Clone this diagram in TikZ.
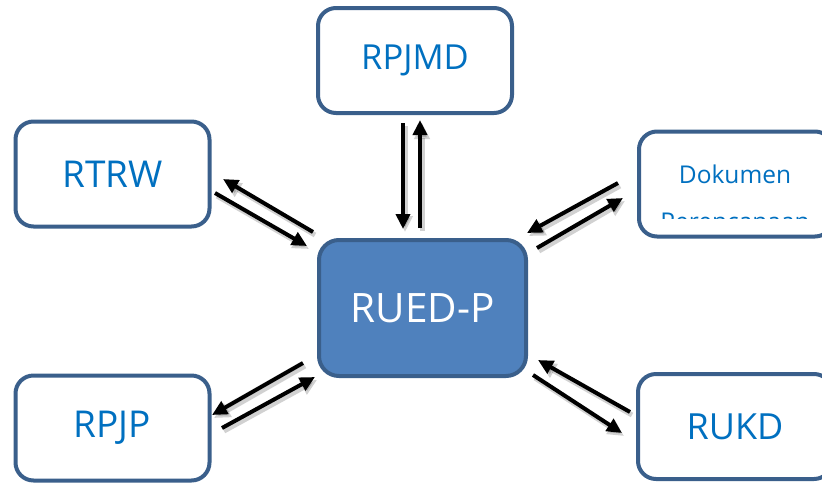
\documentclass[tikz,border=0pt]{standalone}
\usepackage{fontspec}
\setmainfont{Open Sans}
\usetikzlibrary{arrows.meta}
\definecolor{bordc}{HTML}{3A5F8B}
\definecolor{fillc}{HTML}{4F81BD}
\definecolor{txtc}{HTML}{0070C0}
\tikzset{
  sbox/.style={draw=bordc, line width=4pt, rounded corners=18pt, fill=white,
    minimum width=194pt, minimum height=105pt, inner sep=0pt, text=txtc},
  cbox/.style={draw=bordc, line width=4pt, rounded corners=20pt, fill=fillc,
    minimum width=207pt, minimum height=136pt, inner sep=0pt, text=white},
  arr/.style={line width=4pt, -{Triangle[length=15pt,width=14pt]}},
  shd/.style={line width=5pt, draw=black, opacity=0.18, -{Triangle[length=16pt,width=15pt]}},
}
\newcommand{\twoarrow}[2]{%
  \draw[shd,transform canvas={shift={(2pt,-3pt)}}] (#1) -- (#2);
  \draw[arr] (#1) -- (#2);}
\begin{document}
\begin{tikzpicture}[x=1pt,y=-1pt]
\useasboundingbox (0,0) rectangle (822,483);
\clip (0,0) rectangle (822,483);
\node[sbox, font=\fontsize{34.5}{38}\selectfont] (rpjmd) at (415,60.5) {RPJMD};
\node[sbox, font=\fontsize{37}{40}\selectfont] (rtrw) at (112.5,174) {RTRW};
\node[sbox, font=\fontsize{37}{40}\selectfont] (rpjp) at (112.5,428) {RPJP};
\node[sbox, font=\fontsize{36}{40}\selectfont] (rukd) at (735,426.5) {RUKD};
\node[sbox, text width=194pt] (dok) at (736,184) {};
\node[text=txtc, font=\fontsize{24.5}{28}\selectfont, anchor=base] (dok1) at (735,183) {Dokumen};
\begin{scope}
\clip (639,132) rectangle (833,218);
\node[text=txtc, font=\fontsize{24.5}{28}\selectfont, anchor=base] (dok2) at (735,230) {Perencanaan};
\end{scope}
\node[cbox, font=\fontsize{40.5}{44}\selectfont] (rued) at (422.5,308) {RUED-P};
% arrow end points
\coordinate (a1s) at (313,232); \coordinate (a1e) at (223,179);
\coordinate (a2s) at (215,193); \coordinate (a2e) at (307,246);
\coordinate (b1s) at (403,123); \coordinate (b1e) at (403,229);
\coordinate (b2s) at (420,228); \coordinate (b2e) at (420,120);
\coordinate (c1s) at (618,183); \coordinate (c1e) at (527,233);
\coordinate (c2s) at (537,248); \coordinate (c2e) at (623,198);
\coordinate (d1s) at (630,412); \coordinate (d1e) at (538,360);
\coordinate (d2s) at (533,375); \coordinate (d2e) at (622,433);
\coordinate (e1s) at (303,363); \coordinate (e1e) at (212,415);
\coordinate (e2s) at (222,428); \coordinate (e2e) at (315,377);
\twoarrow{a1s}{a1e}
\twoarrow{a2s}{a2e}
\twoarrow{b1s}{b1e}
\twoarrow{b2s}{b2e}
\twoarrow{c1s}{c1e}
\twoarrow{c2s}{c2e}
\twoarrow{d1s}{d1e}
\twoarrow{d2s}{d2e}
\twoarrow{e1s}{e1e}
\twoarrow{e2s}{e2e}
\end{tikzpicture}
\end{document}
